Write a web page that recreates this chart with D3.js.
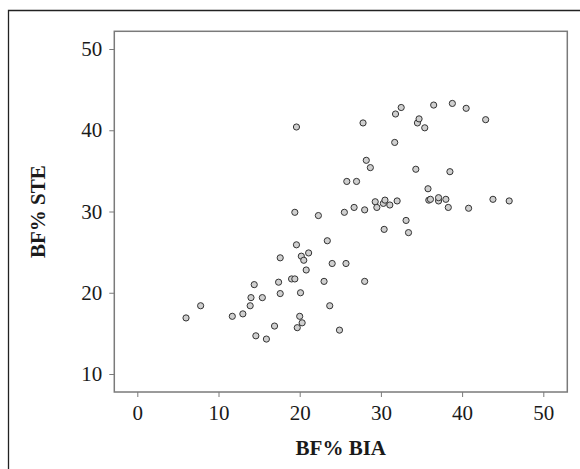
<!DOCTYPE html>
<html>
<head>
<meta charset="utf-8">
<script src="https://cdn.jsdelivr.net/npm/d3@7"></script>
<style>
  body { margin: 0; background: #fff; }
  svg text { font-family: "Liberation Serif", "Times New Roman", serif; fill: #1a1a1a; }
</style>
</head>
<body>
<div id="chart"></div>
<script>
var bia = [6.0, 7.8, 11.7, 13.0, 14.0, 13.9, 14.4, 14.6, 15.4, 15.9,
           16.9, 17.4, 17.6, 17.6, 19.0, 19.4, 19.4, 19.6, 19.6, 19.7,
           20.0, 20.3, 20.1, 20.2, 20.5, 20.8, 21.1, 22.3, 23.0, 23.4,
           23.7, 24.0, 24.9, 25.5, 25.7, 25.8, 26.7, 27.0, 27.8, 28.0,
           28.0, 28.2, 28.7, 29.3, 29.5, 30.3, 30.5, 30.4, 31.1, 31.7,
           31.8, 32.0, 32.5, 33.1, 33.4, 34.3, 34.5, 34.7, 35.4, 35.8,
           35.9, 36.1, 36.5, 37.1, 37.1, 38.0, 38.3, 38.5, 38.8, 40.5,
           40.8, 42.9, 43.8, 45.8];
var ste = [16.9, 18.4, 17.1, 17.4, 19.4, 18.4, 21.0, 14.7, 19.4, 14.3,
           15.9, 21.3, 24.3, 19.9, 21.7, 21.7, 29.9, 40.4, 25.9, 15.7,
           17.1, 16.3, 20.0, 24.5, 24.0, 22.8, 24.9, 29.5, 21.4, 26.4,
           18.4, 23.6, 15.4, 29.9, 23.6, 33.7, 30.5, 33.7, 40.9, 30.2,
           21.4, 36.3, 35.4, 31.2, 30.5, 31.0, 31.4, 27.8, 30.8, 38.5,
           42.0, 31.3, 42.8, 28.9, 27.4, 35.2, 40.9, 41.4, 40.3, 32.8,
           31.4, 31.5, 43.1, 31.3, 31.7, 31.5, 30.5, 34.9, 43.3, 42.7,
           30.4, 41.3, 31.5, 31.3];
var xTicks = [0, 10, 20, 30, 40, 50];
var yTicks = [10, 20, 30, 40, 50];

var data = bia.map(function(d, i) { return {bia: d, ste: ste[i]}; });

var W = 580, H = 469;
var box = {left: 114.3, right: 567.3, top: 31.3, bottom: 392};

var x = d3.scaleLinear().domain([0, 50]).range([137.3, 543.3]);
var y = d3.scaleLinear().domain([10, 50]).range([374, 49]);

var svg = d3.select("#chart").append("svg")
    .attr("width", W)
    .attr("height", H);

// outer frame (open at right and bottom)
svg.append("path")
    .attr("d", "M8.5," + H + "V10.5H" + W)
    .attr("fill", "none")
    .attr("stroke", "#222")
    .attr("stroke-width", 1.3);

// plot box
svg.append("rect")
    .attr("x", box.left)
    .attr("y", box.top)
    .attr("width", box.right - box.left)
    .attr("height", box.bottom - box.top)
    .attr("fill", "none")
    .attr("stroke", "#7a7a7a")
    .attr("stroke-width", 1.5);

// x axis
var xAxis = svg.append("g")
    .attr("transform", "translate(0," + box.bottom + ")")
    .call(d3.axisBottom(x).tickValues(xTicks).tickSize(5).tickPadding(8))
    .call(g => g.select(".domain").remove());
xAxis.selectAll("line").attr("stroke", "#7a7a7a");
xAxis.selectAll("text").attr("font-size", 21).attr("font-family", null);

// y axis
var yAxis = svg.append("g")
    .attr("transform", "translate(" + box.left + ",0)")
    .call(d3.axisLeft(y).tickValues(yTicks).tickSize(5).tickPadding(7))
    .call(g => g.select(".domain").remove());
yAxis.selectAll("line").attr("stroke", "#7a7a7a");
yAxis.selectAll("text").attr("font-size", 21).attr("font-family", null);

// points
svg.selectAll(".dot")
    .data(data)
  .enter().append("circle")
    .attr("class", "dot")
    .attr("cx", function(d) { return x(d.bia); })
    .attr("cy", function(d) { return y(d.ste); })
    .attr("r", 3.1)
    .attr("fill", "#cfcfcf")
    .attr("stroke", "#333")
    .attr("stroke-width", 1);

// axis titles
svg.append("text")
    .attr("x", (box.left + box.right) / 2)
    .attr("y", 455)
    .attr("text-anchor", "middle")
    .attr("font-size", 21)
    .attr("font-weight", "bold")
    .text("BF% BIA");

svg.append("text")
    .attr("transform", "translate(45," + ((box.top + box.bottom) / 2) + ") rotate(-90)")
    .attr("text-anchor", "middle")
    .attr("font-size", 21)
    .attr("font-weight", "bold")
    .text("BF% STE");
</script>
</body>
</html>
